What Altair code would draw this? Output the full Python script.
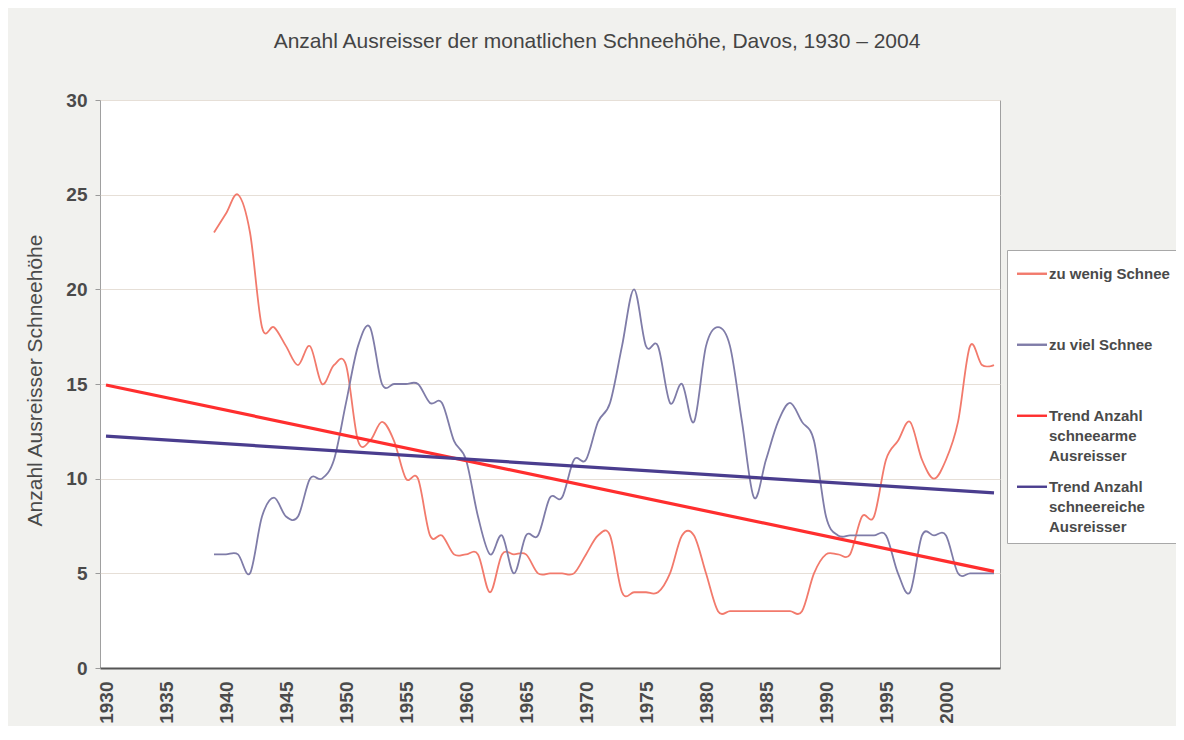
import json
import altair as alt
import pandas as pd

# ---- data ----
years = list(range(1939, 2005))
zu_wenig = [23, 24, 25, 23, 18, 18, 17, 16, 17, 15, 16, 16, 12, 12, 13, 12, 10, 10,
            7, 7, 6, 6, 6, 4, 6, 6, 6, 5, 5, 5, 5, 6, 7, 7, 4, 4, 4, 4, 5, 7, 7, 5,
            3, 3, 3, 3, 3, 3, 3, 3, 5, 6, 6, 6, 8, 8, 11, 12, 13, 11, 10, 11, 13, 17, 16, 16]
zu_viel = [6, 6, 6, 5, 8, 9, 8, 8, 10, 10, 11, 14, 17, 18, 15, 15, 15, 15,
           14, 14, 12, 11, 8, 6, 7, 5, 7, 7, 9, 9, 11, 11, 13, 14, 17, 20, 17, 17,
           14, 15, 13, 17, 18, 17, 13, 9, 11, 13, 14, 13, 12, 8, 7, 7, 7, 7, 7, 5,
           4, 7, 7, 7, 5, 5, 5, 5]
trend_years = [1930, 2004]
trend_arm = [14.95, 5.1]
trend_reich = [12.25, 9.25]

series_names = ["zu wenig Schnee", "zu viel Schnee",
                "Trend Anzahl schneearme Ausreisser",
                "Trend Anzahl schneereiche Ausreisser"]
legend_lines = [["zu wenig Schnee", "", ""],
                ["zu viel Schnee", "", ""],
                ["Trend Anzahl", "schneearme", "Ausreisser"],
                ["Trend Anzahl", "schneereiche", "Ausreisser"]]
colors = ["#f27a6c", "#7f7ca8", "#ff2e2e", "#4a3d8e"]
x_ticks = list(range(1930, 2001, 5))
y_ticks = [0, 5, 10, 15, 20, 25, 30]

rows = []
for y, v in zip(years, zu_wenig):
    rows.append({"series": series_names[0], "year": y, "value": v})
for y, v in zip(years, zu_viel):
    rows.append({"series": series_names[1], "year": y, "value": v})
for y, v in zip(trend_years, trend_arm):
    rows.append({"series": series_names[2], "year": y, "value": v})
for y, v in zip(trend_years, trend_reich):
    rows.append({"series": series_names[3], "year": y, "value": v})
df = pd.DataFrame(rows)

label_expr = ""
for n, l in zip(series_names, legend_lines):
    label_expr += f"datum.label == '{n}' ? {json.dumps(l)} : "
label_expr += "datum.label"

FONT = "Liberation Sans"
TXT = "#4a4a4a"

leg = alt.Legend(
    title=None, orient="none", legendX=907, legendY=150,
    fillColor="#ffffff", strokeColor="#a8a8a8", padding=8,
    symbolType="M-2,0.9L2,0.9", symbolSize=225, symbolOffset=8,
    symbolStrokeWidth=2.4,
    labelOffset=8, labelExpr=label_expr, labelBaseline="top",
    labelFont=FONT, labelFontSize=15,
    labelFontWeight="bold", labelColor=TXT, rowPadding=7,
    labelLimit=300,
)

chart = alt.Chart(df).mark_line(interpolate="cardinal", tension=0).encode(
    x=alt.X("year:Q",
            scale=alt.Scale(domain=[1929.5, 2004.5], nice=False, zero=False),
            axis=alt.Axis(values=x_ticks, format="d", labelAngle=270,
                          ticks=False, labelPadding=13, grid=False,
                          domainColor="#555555", domainWidth=2),
            title=None),
    y=alt.Y("value:Q",
            scale=alt.Scale(domain=[0, 30], nice=False),
            axis=alt.Axis(values=y_ticks, tickSize=5, tickColor="#9a9a9a",
                          labelPadding=8, domain=False, grid=True,
                          gridColor="#e6dfd7", titleX=-65, titleY=280,
                          titleBaseline="middle", titleFontSize=21,
                          titleFontWeight="normal", titleColor=TXT,
                          titleFont=FONT),
            title="Anzahl Ausreisser Schneehöhe"),
    color=alt.Color("series:N", scale=alt.Scale(domain=series_names, range=colors),
                    legend=leg),
    strokeWidth=alt.condition("indexof(datum.series, 'Trend') >= 0",
                              alt.value(3.2), alt.value(1.8)),
    order=alt.Order("year:Q"),
).properties(
    width=900, height=568,
    autosize=alt.AutoSizeParams(type="none"),
    padding={"left": 92, "top": 92, "right": 176, "bottom": 58},
    title=alt.TitleParams(
        text="Anzahl Ausreisser der monatlichen Schneehöhe, Davos,  1930 – 2004",
        font=FONT, fontSize=21, fontWeight="normal", color="#444444",
        anchor="middle", offset=39, dx=47),
    background="#f1f1ee",
).configure(
    style={"guide-label": {"lineHeight": 20}}
).configure_view(
    fill="#ffffff", stroke="#a0a0a0", strokeWidth=1
).configure_axis(
    labelFont=FONT, labelFontSize=19, labelFontWeight="bold", labelColor=TXT
)

chart.save("out.html", embed_options={"renderer": "svg", "actions": False})
